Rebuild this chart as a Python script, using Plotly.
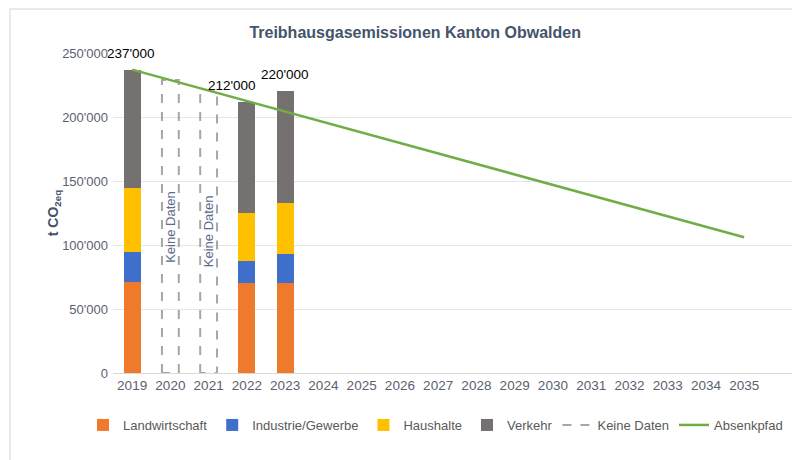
import plotly.graph_objects as go

years = [2019, 2022, 2023]
landwirtschaft = [71000, 70500, 70000]
industrie = [23300, 16800, 23000]
haushalte = [50100, 37700, 39500]
verkehr = [92600, 87000, 87500]
totals = [237000, 212000, 220000]
total_labels = ["237'000", "212'000", "220'000"]

nodata_years = [2020, 2021]
nodata_values = [229000, 221000]
nodata_text = "Keine Daten"

path_years = [2019, 2035]
path_values = [237000, 106000]

all_years = list(range(2019, 2036))
y_ticks = [0, 50000, 100000, 150000, 200000, 250000]
y_tick_labels = ["0", "50'000", "100'000", "150'000", "200'000", "250'000"]

BAR_W = 0.44
TXT = "#44546A"
TICK = "#5A6170"
ML, MT, MB, MR = 105, 45, 95, 8
PW, PH = 800 - ML - MR, 460 - MT - MB

fig = go.Figure()
series = [
    ("Landwirtschaft", landwirtschaft, "#F07A2C"),
    ("Industrie/Gewerbe", industrie, "#3E6FCB"),
    ("Haushalte", haushalte, "#FFC000"),
    ("Verkehr", verkehr, "#767171"),
]
for name, vals, col in series:
    fig.add_trace(go.Bar(x=years, y=vals, name=name, width=BAR_W,
                         marker=dict(color=col, line=dict(width=0))))

for i, (yr, v) in enumerate(zip(nodata_years, nodata_values)):
    h = BAR_W / 2
    fig.add_trace(go.Scatter(
        x=[yr - h, yr - h, yr + h, yr + h, yr - h],
        y=[0, v, v, 0, 0], mode="lines", name="Keine Daten",
        line=dict(color="#A6A6A6", width=2, dash="dash"),
        showlegend=(i == 0), legendgroup="kd", hoverinfo="skip"))
    fig.add_annotation(x=yr, y=v / 2, text=nodata_text, textangle=-90,
                       showarrow=False, font=dict(size=13, color="#5B6B8C",
                                                  family="Liberation Sans, Arial"))

fig.add_trace(go.Scatter(x=path_years, y=path_values, mode="lines",
                         name="Absenkpfad", line=dict(color="#70AD47", width=2.5)))

label_shift = {2019: -1, 2022: -15, 2023: 0}
for yr, t, lab in zip(years, totals, total_labels):
    fig.add_annotation(x=yr, y=t, text=lab, showarrow=False, yanchor="bottom",
                       yshift=7, xshift=label_shift[yr],
                       font=dict(size=13.5, color="#000000", family="Liberation Sans, Arial"))

fig.add_shape(type="rect", xref="paper", yref="paper",
              x0=(2 - ML) / PW, x1=1.05, y0=-0.5, y1=1 + (MT - 1) / PH,
              line=dict(color="#E3E3E8", width=1.5), fillcolor="rgba(0,0,0,0)",
              layer="below")

fig.update_layout(
    width=800, height=460,
    margin=dict(l=ML, r=MR, t=MT, b=MB, autoexpand=False),
    paper_bgcolor="white", plot_bgcolor="white",
    barmode="stack",
    font=dict(family="Liberation Sans, Arial", color=TICK, size=14),
    title=dict(text="<b>Treibhausgasemissionen Kanton Obwalden</b>", x=0.509, xanchor="center",
               y=0.948, yanchor="middle", yref="container", font=dict(size=16, color=TXT)),
    xaxis=dict(range=[2018.5, 2036.46], tickvals=all_years, ticktext=[str(y) for y in all_years],
               showgrid=False, zeroline=False, showline=True, linecolor="#D9D9D9",
               tickfont=dict(size=13.5, color=TICK), ticks="", automargin=False),
    yaxis=dict(range=[0, 250000], tickvals=y_ticks, ticktext=y_tick_labels,
               showgrid=True, gridcolor="#E6E6EA", gridwidth=1, zeroline=False,
               tickfont=dict(size=13, color=TICK), ticks="", ticklen=0, automargin=False,
               ticklabelstandoff=4,
               title=dict(text="<b>t CO<sub>2eq</sub></b>", standoff=0,
                          font=dict(size=14, color=TXT))),
    legend=dict(orientation="h", xref="paper", x=(75 - ML) / PW, xanchor="left",
                yref="paper", y=-(417 - (460 - MB)) / PH, yanchor="middle",
                font=dict(size=13, color="#595959"), traceorder="normal",
                itemwidth=30, tracegroupgap=0),
    showlegend=True,
)

fig.write_html("out.html")
